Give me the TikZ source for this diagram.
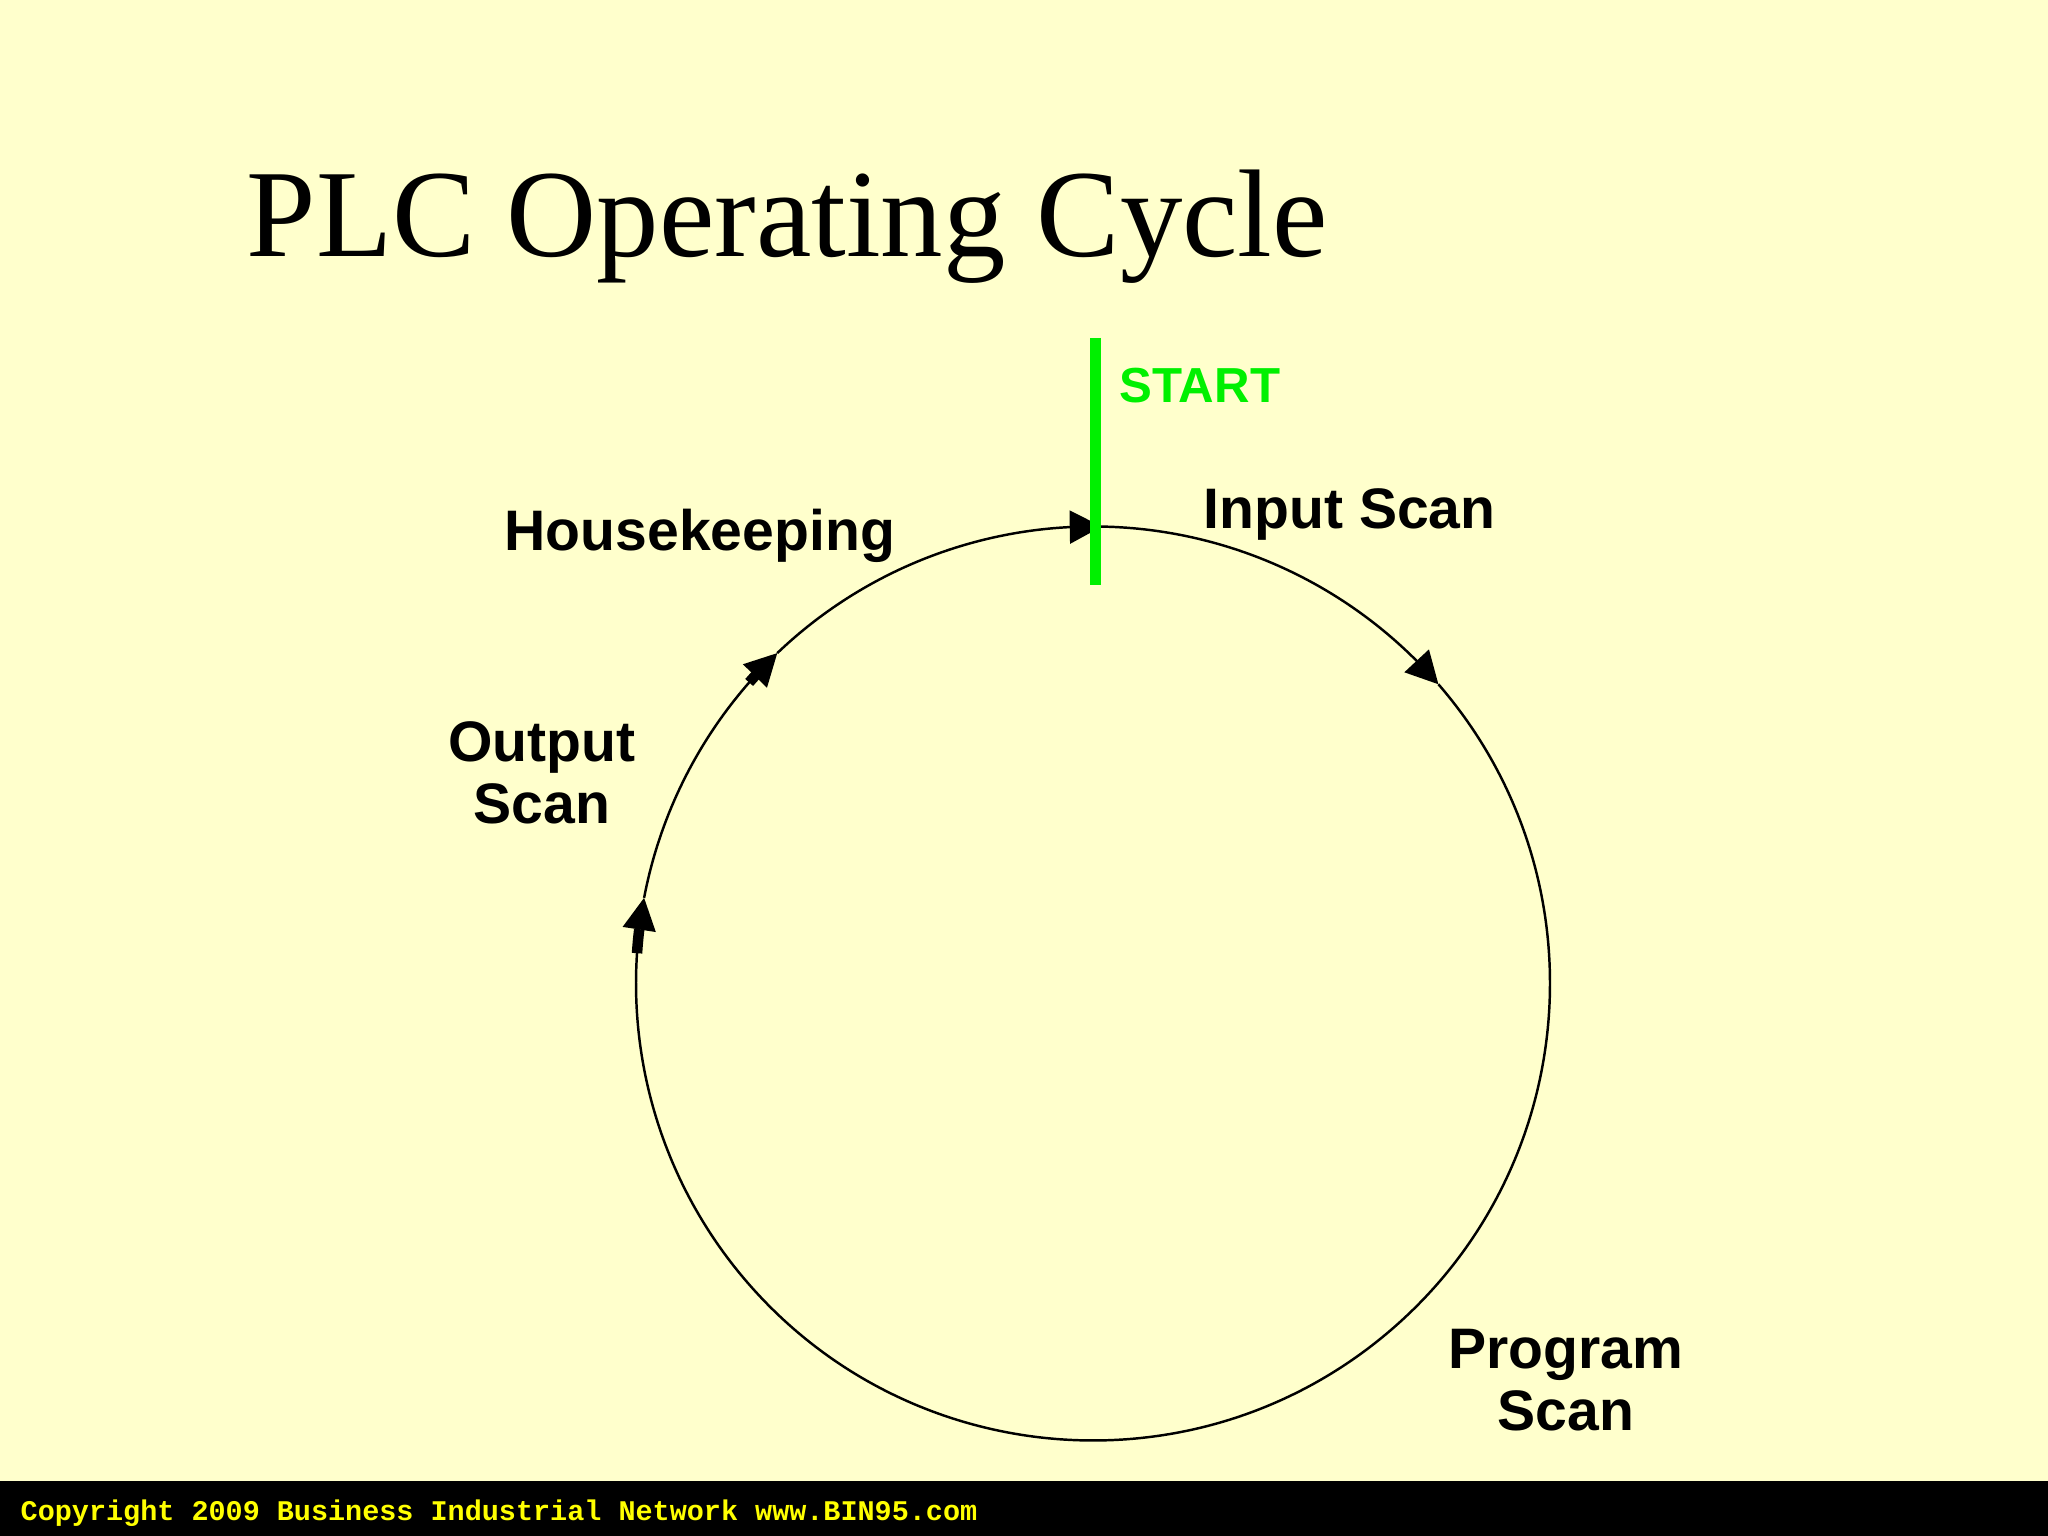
\documentclass[tikz,border=0pt]{standalone}
\usepackage{fontspec}
\setmainfont{Liberation Serif}
\setsansfont{Liberation Sans}
\setmonofont{Liberation Mono}
\usetikzlibrary{arrows.meta,bending}
\definecolor{slidebg}{RGB}{255,255,204}
\definecolor{startgreen}{RGB}{0,240,0}
\definecolor{copyyellow}{RGB}{255,255,0}

\begin{document}
\begin{tikzpicture}[scale=1, transform shape]
    \tikzset{>={Triangle[length=3.2mm,width=3.3mm]}}
    \tikzset{step label/.style={font=\sffamily\bfseries\fontsize{16.25}{17.6}\selectfont, inner sep=0pt, align=center},
             cycle line/.style={->, line width=0.7pt},
             stem/.style={line width=1.05mm, line cap=butt}}
    \fill[slidebg] (0,0) rectangle (20.48,15.36);
    \useasboundingbox (0,0) rectangle (20.48,15.36);
    \fill[black] (0,0) rectangle (20.48,0.55);
    \coordinate (C) at (10.93,5.525);
    \coordinate (top) at ([shift={(90:4.57)}]C);
    \coordinate (inp) at ([shift={(40.9:4.57)}]C);
    \coordinate (outp) at ([shift={(169.2:4.57)}]C);
    \coordinate (hk) at ([shift={(133.7:4.57)}]C);
    \node[anchor=base west, inner sep=0pt, font=\fontsize{35.5}{40}\selectfont] (title) at (2.46,12.79) {PLC Operating Cycle};
    % the scan cycle, clockwise from the top
    \draw[cycle line] (top) arc[start angle=90, end angle=40.9, radius=4.57];
    \draw[cycle line] (inp) arc[start angle=40.9, end angle=-190.8, radius=4.57];
    \draw[cycle line] (outp) arc[start angle=169.2, end angle=133.7, radius=4.57];
    \draw[cycle line] (hk) arc[start angle=133.7, end angle=88.9, radius=4.57];
    \draw[stem] ([shift={(176.2:4.57)}]C) arc[start angle=176.2, end angle=173.2, radius=4.57];
    \draw[stem] ([shift={(138.8:4.57)}]C) arc[start angle=138.8, end angle=137.4, radius=4.57];
    \draw[startgreen, line width=1.1mm] (10.955,11.98) coordinate (g1) -- (10.955,9.51) coordinate (g2);
    \node[anchor=base west, inner sep=0pt, text=startgreen, font=\sffamily\bfseries\fontsize{14}{16}\selectfont] (start) at (11.19,11.33) {START};
    \node[step label, anchor=base west] (input) at (12.03,10.07) {Input Scan};
    \node[step label, anchor=base west] (house) at (5.04,9.85) {Housekeeping};
    \node[step label] (output) at (5.42,7.635) {Output\\Scan};
    \node[step label] (program) at (15.66,1.555) {Program\\Scan};
    \node[anchor=base west, inner sep=0pt, text=copyyellow, font=\ttfamily\bfseries\fontsize{8.1}{10}\selectfont] (copy) at (0.20,0.15) {Copyright 2009 Business Industrial Network www.BIN95.com};
\end{tikzpicture}
\end{document}
